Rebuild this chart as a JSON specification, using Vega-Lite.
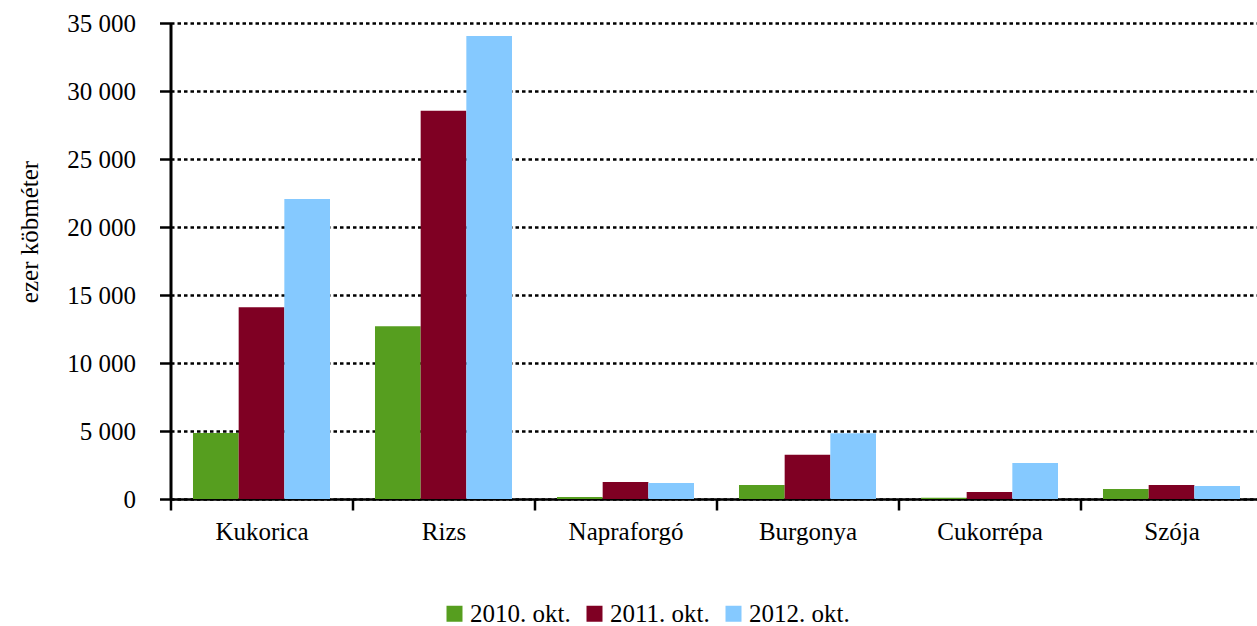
{
  "$schema": "https://vega.github.io/schema/vega-lite/v6.json",
  "width": 1092,
  "height": 476,
  "autosize": {"type": "none"},
  "padding": {"left": 170.5, "top": 23, "right": -5.5, "bottom": 127},
  "background": "white",
  "config": {
    "font": "Liberation Serif",
    "view": {"stroke": null},
    "axis": {"labelFont": "Liberation Serif", "titleFont": "Liberation Serif", "labelColor": "black", "titleColor": "black"},
    "legend": {"labelFont": "Liberation Serif", "labelColor": "black"}
  },
  "data": {
    "values": [
      {"crop": "Kukorica", "year": "2010. okt.", "value": 4850},
      {"crop": "Kukorica", "year": "2011. okt.", "value": 14100},
      {"crop": "Kukorica", "year": "2012. okt.", "value": 22050},
      {"crop": "Rizs", "year": "2010. okt.", "value": 12700},
      {"crop": "Rizs", "year": "2011. okt.", "value": 28550},
      {"crop": "Rizs", "year": "2012. okt.", "value": 34050},
      {"crop": "Napraforgó", "year": "2010. okt.", "value": 150},
      {"crop": "Napraforgó", "year": "2011. okt.", "value": 1250},
      {"crop": "Napraforgó", "year": "2012. okt.", "value": 1180},
      {"crop": "Burgonya", "year": "2010. okt.", "value": 1030},
      {"crop": "Burgonya", "year": "2011. okt.", "value": 3260},
      {"crop": "Burgonya", "year": "2012. okt.", "value": 4830},
      {"crop": "Cukorrépa", "year": "2010. okt.", "value": 100},
      {"crop": "Cukorrépa", "year": "2011. okt.", "value": 515},
      {"crop": "Cukorrépa", "year": "2012. okt.", "value": 2650},
      {"crop": "Szója", "year": "2010. okt.", "value": 735},
      {"crop": "Szója", "year": "2011. okt.", "value": 1030},
      {"crop": "Szója", "year": "2012. okt.", "value": 955}
    ]
  },
  "mark": {"type": "bar", "strokeWidth": 0},
  "encoding": {
    "x": {
      "field": "crop",
      "type": "nominal",
      "sort": null,
      "scale": {"paddingInner": 0, "paddingOuter": 0},
      "axis": {
        "title": null,
        "labelAngle": 0,
        "labelFontSize": 25,
        "labelPadding": 9,
        "tickBand": "extent",
        "tickSize": 11,
        "tickWidth": 2.5,
        "tickColor": "black",
        "domainColor": "black",
        "domainWidth": 2.5,
        "grid": false
      }
    },
    "xOffset": {
      "field": "year",
      "type": "nominal",
      "scale": {"paddingInner": 0, "paddingOuter": 0.4925}
    },
    "y": {
      "field": "value",
      "type": "quantitative",
      "scale": {"domain": [0, 35000], "nice": false},
      "axis": {
        "title": "ezer köbméter",
        "titleFontSize": 25,
        "titleFontWeight": "normal",
        "titleAngle": -90,
        "titleX": -133.5,
        "titleY": 208.5,
        "titleAlign": "center",
        "titleBaseline": "alphabetic",
        "values": [0, 5000, 10000, 15000, 20000, 25000, 30000, 35000],
        "labelExpr": "replace(format(datum.value, ','), ',', ' ')",
        "labelFontSize": 25,
        "labelPadding": 24,
        "tickSize": 11,
        "tickWidth": 2.5,
        "tickColor": "black",
        "domainColor": "black",
        "domainWidth": 3,
        "grid": true,
        "gridColor": "black",
        "gridWidth": 2.5,
        "gridDash": [3.5, 3]
      }
    },
    "color": {
      "field": "year",
      "type": "nominal",
      "scale": {
        "domain": ["2010. okt.", "2011. okt.", "2012. okt."],
        "range": ["#569E1F", "#7F0023", "#85C9FF"]
      },
      "legend": {
        "title": null,
        "orient": "none",
        "direction": "horizontal",
        "legendX": 271.5,
        "legendY": 578,
        "symbolType": "square",
        "symbolSize": 256,
        "symbolStrokeWidth": 0,
        "labelFontSize": 25,
        "labelOffset": 3,
        "columnPadding": 11,
        "padding": 0
      }
    }
  }
}
